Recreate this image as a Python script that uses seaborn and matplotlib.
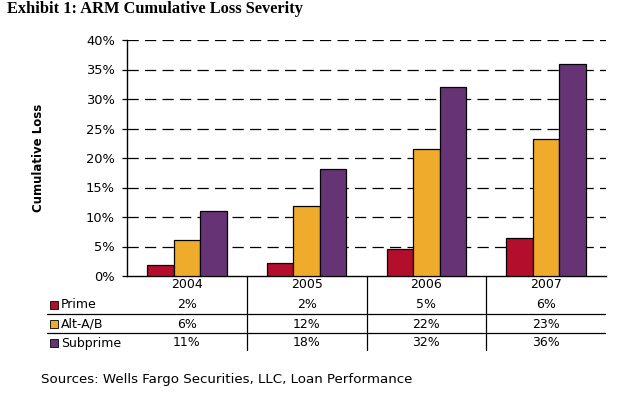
import numpy as np
import pandas as pd
import matplotlib
matplotlib.use('Agg')
import matplotlib.pyplot as plt
import matplotlib.transforms as mtrans
import seaborn as sns

years = ['2004', '2005', '2006', '2007']
series = ['Prime', 'Alt-A/B', 'Subprime']
prime = [1.8, 2.15, 4.5, 6.4]
alt_ab = [6.05, 11.9, 21.6, 23.3]
subprime = [10.95, 18.1, 32.1, 35.9]
table_prime = ['2%', '2%', '5%', '6%']
table_alt = ['6%', '12%', '22%', '23%']
table_sub = ['11%', '18%', '32%', '36%']
colors = ['#B30E2C', '#EEAB2C', '#663475']

df = pd.DataFrame({
    'Year': years * 3,
    'Series': np.repeat(series, 4),
    'Loss': prime + alt_ab + subprime,
})

sns.set_style('white')
plt.rcParams['font.family'] = ['DejaVu Sans']
plt.rcParams['text.color'] = 'black'
plt.rcParams['ytick.labelcolor'] = 'black'

W, H = 627, 400
fig = plt.figure(figsize=(W / 100, H / 100), dpi=100)
ax = fig.add_axes([127 / W, 1 - 276 / H, (606 - 127) / W, (276 - 40) / H])

sns.barplot(data=df, x='Year', y='Loss', hue='Series', palette=colors,
            width=0.665, edgecolor='black', linewidth=0.9, saturation=1,
            legend=False, ax=ax, zorder=3)

ax.set_xlim(-0.5, 3.5)
ax.set_ylim(0, 40)
ax.set_yticks(np.arange(0, 41, 5))
ax.set_yticklabels([f'{v}%' for v in range(0, 41, 5)], fontsize=9.4)
ax.set_xticks([])
ax.set_xlabel('')
ax.set_ylabel('Cumulative Loss', fontsize=8.5, fontweight='bold', color='black')
ax.yaxis.set_label_coords(-0.172, 0.5)
ax.tick_params(axis='y', length=3.6, width=0.9, color='black', pad=5, left=True)
for side in ['top', 'right']:
    ax.spines[side].set_visible(False)
for side in ['left', 'bottom']:
    ax.spines[side].set_color('black')
    ax.spines[side].set_linewidth(1.0)
for v in range(5, 41, 5):
    ax.axhline(v, color='black', lw=0.9, ls=(0, (9, 5)), zorder=1)

# data table under the chart
tr = mtrans.blended_transform_factory(ax.transData, fig.transFigure)
fy = lambda p: 1 - p / H
fs = 9
for i, y in enumerate(years):
    ax.text(i, fy(285), y, transform=tr, ha='center', va='center', fontsize=fs)
    ax.text(i, fy(305), table_prime[i], transform=tr, ha='center', va='center', fontsize=fs)
    ax.text(i, fy(324), table_alt[i], transform=tr, ha='center', va='center', fontsize=fs)
    ax.text(i, fy(343), table_sub[i], transform=tr, ha='center', va='center', fontsize=fs)
for b in [0.5, 1.5, 2.5]:
    ax.plot([b, b], [fy(276), fy(350)], transform=tr, color='black', lw=0.9, clip_on=False)
for yy in [314, 333]:
    fig.add_artist(plt.Line2D([47 / W, 605 / W], [fy(yy), fy(yy)], color='black', lw=0.9))
for name, c, yy in zip(series, colors, [305, 324, 343]):
    fig.add_artist(plt.Line2D([54 / W], [fy(yy)], marker='s', markersize=6,
                              markerfacecolor=c, markeredgecolor='black',
                              markeredgewidth=0.6, ls='none'))
    fig.text(61 / W, fy(yy), name, ha='left', va='center', fontsize=fs)

fig.text(7 / W, fy(9), 'Exhibit 1: ARM Cumulative Loss Severity', ha='left', va='center',
         fontsize=11.8, fontweight='bold', family='Liberation Serif')
fig.text(41 / W, fy(380), 'Sources: Wells Fargo Securities, LLC, Loan Performance',
         ha='left', va='center', fontsize=9.6)

fig.savefig('out.png', dpi=100)
